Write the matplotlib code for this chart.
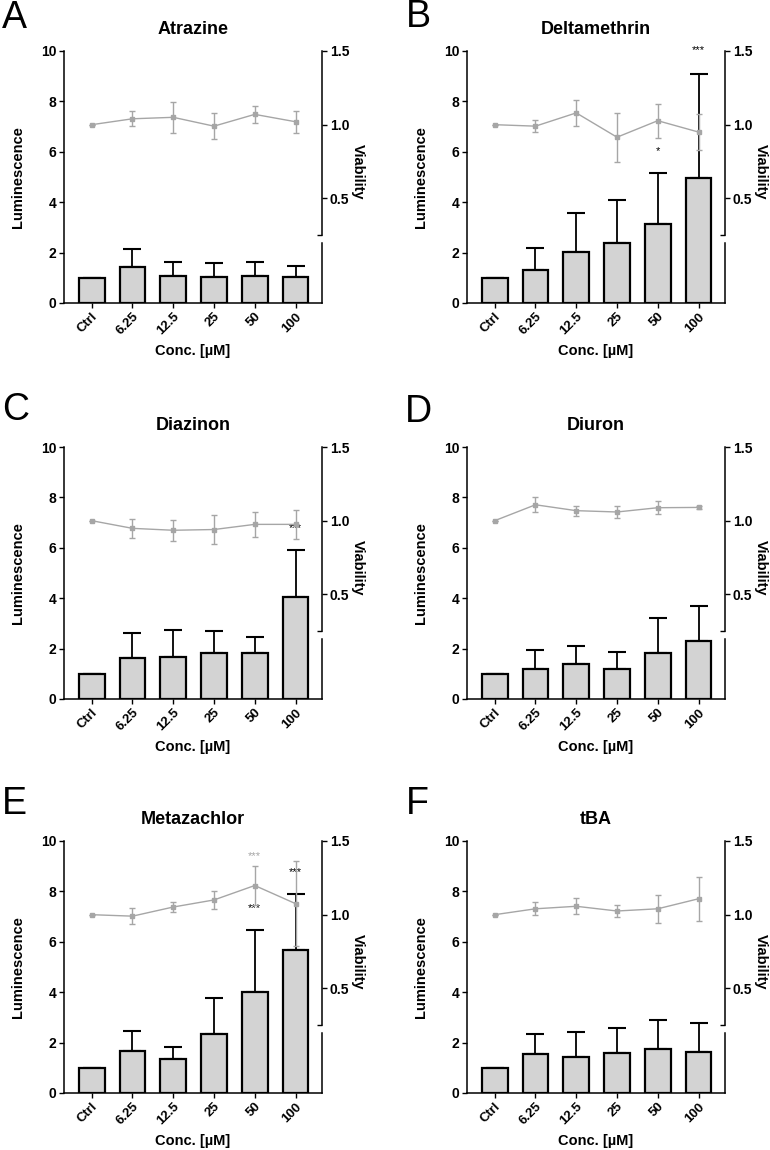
import numpy as np
import matplotlib.pyplot as plt
import matplotlib.transforms as mtransforms

plt.rcParams['font.family'] = ['Liberation Sans', 'DejaVu Sans']

conc = ['Ctrl', '6.25', '12.5', '25', '50', '100']
titles = ['Atrazine', 'Deltamethrin', 'Diazinon', 'Diuron', 'Metazachlor', 'tBA']
letters = ['A', 'B', 'C', 'D', 'E', 'F']

# luminescence (bars) mean and upper SD
lum_atrazine = [1.0, 1.43, 1.08, 1.05, 1.07, 1.03]
lum_atrazine_sd = [0.0, 0.70, 0.56, 0.52, 0.57, 0.45]
lum_deltamethrin = [1.0, 1.30, 2.03, 2.39, 3.15, 4.98]
lum_deltamethrin_sd = [0.0, 0.89, 1.53, 1.71, 2.02, 4.09]
lum_diazinon = [1.0, 1.64, 1.68, 1.84, 1.81, 4.05]
lum_diazinon_sd = [0.0, 0.98, 1.05, 0.86, 0.65, 1.88]
lum_diuron = [1.0, 1.21, 1.37, 1.20, 1.81, 2.30]
lum_diuron_sd = [0.0, 0.72, 0.73, 0.68, 1.41, 1.39]
lum_metazachlor = [1.0, 1.65, 1.35, 2.35, 4.02, 5.67]
lum_metazachlor_sd = [0.0, 0.83, 0.47, 1.43, 2.46, 2.23]
lum_tba = [1.0, 1.53, 1.44, 1.58, 1.76, 1.64]
lum_tba_sd = [0.0, 0.83, 0.97, 0.99, 1.12, 1.13]

# viability (gray line) mean and SD
via_atrazine = [1.0, 1.04, 1.05, 0.99, 1.07, 1.02]
via_atrazine_sd = [0.0, 0.05, 0.105, 0.09, 0.06, 0.075]
via_deltamethrin = [1.0, 0.99, 1.08, 0.915, 1.027, 0.95]
via_deltamethrin_sd = [0.0, 0.04, 0.087, 0.165, 0.115, 0.12]
via_diazinon = [1.0, 0.948, 0.935, 0.94, 0.975, 0.975]
via_diazinon_sd = [0.0, 0.065, 0.07, 0.097, 0.085, 0.10]
via_diuron = [1.0, 1.108, 1.068, 1.059, 1.088, 1.09]
via_diuron_sd = [0.0, 0.05, 0.034, 0.04, 0.045, 0.01]
via_metazachlor = [1.0, 0.99, 1.052, 1.10, 1.198, 1.075]
via_metazachlor_sd = [0.0, 0.053, 0.035, 0.06, 0.13, 0.29]
via_tba = [1.0, 1.04, 1.057, 1.025, 1.04, 1.108]
via_tba_sd = [0.0, 0.044, 0.053, 0.04, 0.094, 0.15]

lum = [lum_atrazine, lum_deltamethrin, lum_diazinon, lum_diuron, lum_metazachlor, lum_tba]
lum_sd = [lum_atrazine_sd, lum_deltamethrin_sd, lum_diazinon_sd, lum_diuron_sd,
          lum_metazachlor_sd, lum_tba_sd]
via = [via_atrazine, via_deltamethrin, via_diazinon, via_diuron, via_metazachlor, via_tba]
via_sd = [via_atrazine_sd, via_deltamethrin_sd, via_diazinon_sd, via_diuron_sd,
          via_metazachlor_sd, via_tba_sd]

# significance marks: panel, category index, height (luminescence scale), colour
star_panel = [1, 1, 2, 4, 4, 4]
star_idx = [4, 5, 5, 4, 4, 5]
star_y = [6.15, 10.16, 6.9, 9.52, 7.46, 8.88]
star_text = ['*', '***', '***', '***', '***', '***']
star_color = ['black', 'black', 'black', '#a6a6a6', 'black', 'black']

W, H = 770, 1150
gray = '#a6a6a6'

fig = plt.figure(figsize=(W / 100, H / 100), dpi=100)

col_left = [64, 467]
row_top = [51, 447, 841]
ax_w, ax_h = 258, 252
letter_pos = [(2, 0), (406, -1), (2, 392), (405, 394), (2, 786), (406, 786)]

x = np.arange(len(conc))

for k in range(6):
    r, c = k // 2, k % 2
    l = col_left[c]
    t = row_top[r]
    ax = fig.add_axes([l / W, 1 - (t + ax_h) / H, ax_w / W, ax_h / H])

    ax.bar(x, lum[k], width=0.63, color='#d3d3d3', edgecolor='black', linewidth=1.6, zorder=2)
    ax.errorbar(x, lum[k], yerr=[np.zeros(6), lum_sd[k]], fmt='none', ecolor='black',
                elinewidth=1.3, capsize=6.5, capthick=1.5, zorder=1)
    ax.set_xlim(-0.68, 5.65)
    ax.set_ylim(0, 10)
    ax.set_yticks([0, 2, 4, 6, 8, 10])
    ax.set_xticks(x)
    ax.set_xticklabels(conc, rotation=45, ha='right', rotation_mode='anchor',
                       fontsize=9.5, fontweight='bold')
    for lab in ax.get_yticklabels():
        lab.set_fontweight('bold')
        lab.set_fontsize(10)
    ax.tick_params(axis='both', direction='out', length=3.5, width=1.0, pad=2)
    ax.spines['top'].set_visible(False)
    ax.spines['right'].set_visible(False)
    ax.spines['left'].set_linewidth(1.1)
    ax.spines['bottom'].set_linewidth(1.1)
    ax.set_ylabel('Luminescence', fontsize=10.5, fontweight='bold')
    ax.yaxis.set_label_coords(-0.15, 0.5)
    ax.set_xlabel('Conc. [µM]', fontsize=10.5, fontweight='bold', va='center')
    ax.xaxis.set_label_coords(0.5, -0.192)
    ax.set_title(titles[k], fontsize=13, fontweight='bold', pad=12)

    ax2 = ax.twinx()
    ax2.set_ylim(-0.21, 1.5)
    ax2.errorbar(x, via[k], yerr=via_sd[k], color=gray, marker='s', markersize=2.3,
                 linewidth=1.0, elinewidth=1.0, capsize=2, capthick=1.0)
    ax2.set_yticks([0.5, 1.0, 1.5])
    ax2.set_yticklabels(['0.5', '1.0', '1.5'], fontsize=10, fontweight='bold')
    ax2.set_yticks([0.25], minor=True)
    ax2.tick_params(axis='y', which='major', direction='out', length=3.5, width=1.0, pad=2)
    ax2.tick_params(axis='y', which='minor', direction='in', length=3.5, width=1.0)
    for s in ['top', 'left', 'bottom']:
        ax2.spines[s].set_visible(False)
    ax2.spines['right'].set_linewidth(1.1)
    ax2.spines['right'].set_bounds(0.25, 1.5)
    trans = mtransforms.blended_transform_factory(ax2.transAxes, ax2.transData)
    ax2.plot([1, 1], [-0.21, 0.195], color='black', linewidth=1.1,
             transform=trans, clip_on=False)
    ax2.set_ylabel('Viability', fontsize=10.5, fontweight='bold', rotation=-90)
    ax2.yaxis.set_label_coords(1.165, 0.52)

    for p, i, yy, s, col in zip(star_panel, star_idx, star_y, star_text, star_color):
        if p == k:
            # asterisks sit high in the em box, so drop the baseline a little
            ax.text(x[i], yy - 0.25, s, ha='center', va='baseline', fontsize=8,
                    color=col, zorder=5, clip_on=False)

    lx, ly = letter_pos[k]
    fig.text(lx / W, 1 - ly / H, letters[k], fontsize=27, ha='left', va='top')

fig.savefig('out.png', dpi=100)
